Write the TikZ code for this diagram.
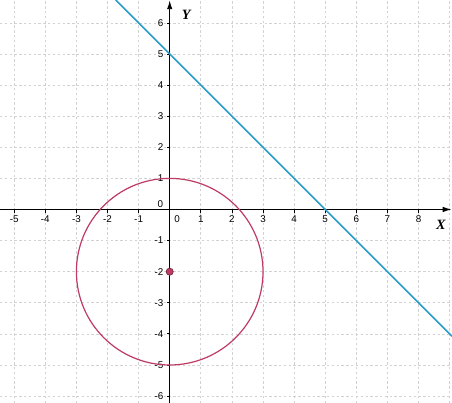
\documentclass[tikz,border=0pt]{standalone}
\usepackage{fontspec}
\setmainfont{Liberation Serif}
\setsansfont{Liberation Sans}
\usetikzlibrary{arrows.meta}
\definecolor{linecol}{RGB}{45,155,200}
\definecolor{circcol}{RGB}{190,60,100}
\definecolor{gridcol}{RGB}{210,210,210}
\tikzset{
  gridline/.style={draw=gridcol, line width=0.6pt, dash pattern=on 2.2pt off 2.2pt},
  axisline/.style={draw=black, line width=0.9pt, -{Latex[length=8pt,width=5pt]}},
  tickline/.style={draw=black, line width=0.7pt},
  numlab/.style={font=\sffamily\fontsize{9}{10}\selectfont, inner sep=0pt},
  axlab/.style={font=\rmfamily\fontsize{13}{15}\selectfont\bfseries\itshape, inner sep=0pt},
}
\begin{document}
\begin{tikzpicture}[x=1cm,y=1cm]
\useasboundingbox (-5.457,-6.222) rectangle (9.077,6.736);
\fill[white] (-5.457,-6.222) rectangle (9.077,6.736);
% grid
\foreach \i in {-5,...,9} \draw[gridline] (\i,-6.222) -- (\i,6.736);
\foreach \j in {-6,...,6} \draw[gridline] (-5.457,\j) -- (9.077,\j);
% axes
\coordinate (xs) at (-5.457,0);
\coordinate (xe) at (9.06,0);
\coordinate (ys) at (0,-6.222);
\coordinate (ye) at (0,6.72);
\draw[axisline] (xs) -- (xe);
\draw[axisline] (ys) -- (ye);
% ticks and labels
\foreach \i in {-5,...,-1,1,2,...,8} {
  \draw[tickline] (\i,0) -- (\i,-0.1);
  \node[numlab] (xl\i) at (\i,-0.31) {\i};
}
\node[numlab] (xl0) at (0.24,-0.31) {0};
\foreach \j in {-6,...,-1,1,2,...,6} {
  \draw[tickline] (0,\j) -- (-0.1,\j);
  \node[numlab, anchor=east] (yl\j) at (-0.2,\j) {\j};
}
\node[numlab] (yl0) at (-0.3,0.18) {0};
\node[axlab] (xname) at (8.72,-0.5) {X};
\node[axlab] (yname) at (0.53,6.25) {Y};
% line x+y=5
\coordinate (la) at (-1.736,6.736);
\coordinate (lb) at (9.077,-4.077);
\draw[linecol, line width=1.4pt] (la) -- (lb);
% circle
\draw[circcol, line width=1.1pt] (0,-2) circle (3);
\node[circle, fill=circcol, draw=circcol!60!black, line width=0.6pt, minimum size=6.5pt, inner sep=0pt] (ctr) at (0,-2) {};
\end{tikzpicture}
\end{document}
